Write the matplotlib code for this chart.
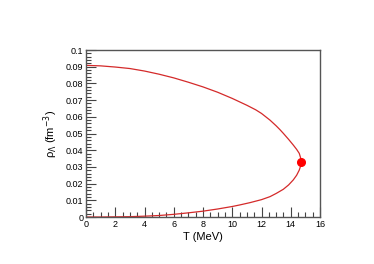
import matplotlib
matplotlib.use("Agg")
import numpy as np
from matplotlib import pyplot as plt
from matplotlib.ticker import MultipleLocator, FuncFormatter

plt.rcParams['font.family'] = ['Liberation Sans', 'DejaVu Sans']

# upper (liquid-like) branch, T in MeV, density in fm^-3
t_upper = [0, 1, 2, 3, 4, 5, 6, 7, 8, 9, 10, 11, 11.6, 12, 12.58, 13, 13.26,
           13.49, 13.85, 14.17, 14.4, 14.58, 14.67, 14.70]
rho_upper = [0.0908, 0.0905, 0.0898, 0.0889, 0.0874, 0.0855, 0.0833, 0.0807, 0.0779,
             0.0747, 0.0710, 0.0669, 0.0642, 0.0620, 0.0580, 0.0546, 0.0523,
             0.0501, 0.0465, 0.0431, 0.0405, 0.0381, 0.0355, 0.0329]
# lower (gas-like) branch
t_lower = [14.67, 14.58, 14.4, 14.17, 13.85, 13.49, 13, 12.58, 12, 11.21, 10.5, 10,
           9, 8, 7, 6, 5, 4, 3, 2, 1, 0]
rho_lower = [0.0305, 0.0281, 0.0250, 0.0222, 0.0192, 0.0166, 0.0141, 0.0122, 0.0104,
             0.0086, 0.0072, 0.0063, 0.0048, 0.0035, 0.0025, 0.0016, 0.0009, 0.0005,
             0.0002, 0.0001, 0.0, 0.0]
# critical point
t_crit = [14.70]
rho_crit = [0.0329]

fig = plt.figure(figsize=(3.74, 2.64), dpi=100)
ax = fig.add_axes([0.23, 0.178, 0.6257, 0.6326])

ax.plot(t_upper + t_lower, rho_upper + rho_lower, color='#d42a2a', lw=0.9)
ax.plot(t_crit, rho_crit, 'o', color='#ff0000', ms=5.5, mec='#ff0000')

ax.set_xlim(0, 16)
ax.set_ylim(0, 0.1)
ax.xaxis.set_major_locator(MultipleLocator(2))
ax.xaxis.set_minor_locator(MultipleLocator(0.5))
ax.yaxis.set_major_locator(MultipleLocator(0.01))
ax.yaxis.set_minor_locator(MultipleLocator(0.002))
ax.yaxis.set_major_formatter(FuncFormatter(lambda v, p: '0' if abs(v) < 1e-9 else ('%.2f' % v).rstrip('0')))
ax.tick_params(which='both', direction='in', top=False, right=False,
               color='#444444', labelsize=6.5, pad=2)
ax.tick_params(which='major', length=7, width=0.8)
ax.tick_params(which='minor', length=3.5, width=0.8)
for s in ax.spines.values():
    s.set_color('#555555')
    s.set_linewidth(1.0)

ax.set_xlabel('T (MeV)', fontsize=8, labelpad=2)
ax.set_ylabel(r'ρ$_\Lambda$ (fm$^{-3}$)', fontsize=8, labelpad=4)

fig.savefig('out.png', dpi=100)
